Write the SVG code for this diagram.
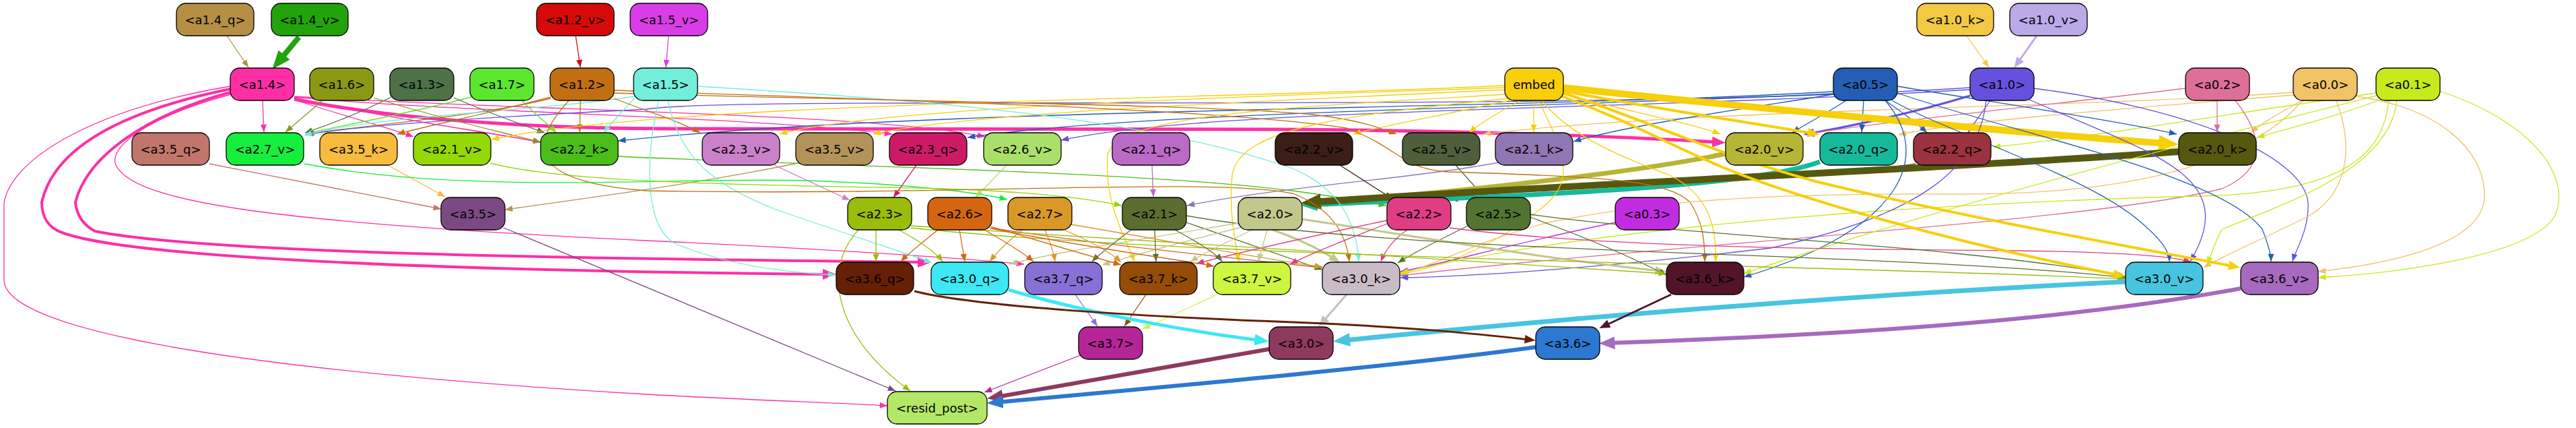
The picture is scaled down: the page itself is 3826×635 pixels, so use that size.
<svg xmlns="http://www.w3.org/2000/svg" width="3826" height="635" viewBox="0 0 3826 635">
<style>
.n rect{stroke:#000;stroke-width:1.3}
.n text{font-family:"DejaVu Sans","Liberation Sans",sans-serif;font-size:18px;text-anchor:middle;fill:#000}
#connectors path{fill:none}
</style>
<defs>
<marker id="t-b58f44" viewBox="0 0 10 8" refX="10" refY="4" markerWidth="12" markerHeight="9" markerUnits="userSpaceOnUse" orient="auto"><path d="M0,0L10,4L0,8z" fill="#b58f44"/></marker>
<marker id="t-d60a0a" viewBox="0 0 10 8" refX="10" refY="4" markerWidth="12" markerHeight="9" markerUnits="userSpaceOnUse" orient="auto"><path d="M0,0L10,4L0,8z" fill="#d60a0a"/></marker>
<marker id="t-d93de8" viewBox="0 0 10 8" refX="10" refY="4" markerWidth="12" markerHeight="9" markerUnits="userSpaceOnUse" orient="auto"><path d="M0,0L10,4L0,8z" fill="#d93de8"/></marker>
<marker id="t-f3c843" viewBox="0 0 10 8" refX="10" refY="4" markerWidth="12" markerHeight="9" markerUnits="userSpaceOnUse" orient="auto"><path d="M0,0L10,4L0,8z" fill="#f3c843"/></marker>
<marker id="t-fe2fa6" viewBox="0 0 10 8" refX="10" refY="4" markerWidth="12" markerHeight="9" markerUnits="userSpaceOnUse" orient="auto"><path d="M0,0L10,4L0,8z" fill="#fe2fa6"/></marker>
<marker id="t-8a9814" viewBox="0 0 10 8" refX="10" refY="4" markerWidth="12" markerHeight="9" markerUnits="userSpaceOnUse" orient="auto"><path d="M0,0L10,4L0,8z" fill="#8a9814"/></marker>
<marker id="t-4e7148" viewBox="0 0 10 8" refX="10" refY="4" markerWidth="12" markerHeight="9" markerUnits="userSpaceOnUse" orient="auto"><path d="M0,0L10,4L0,8z" fill="#4e7148"/></marker>
<marker id="t-5ce630" viewBox="0 0 10 8" refX="10" refY="4" markerWidth="12" markerHeight="9" markerUnits="userSpaceOnUse" orient="auto"><path d="M0,0L10,4L0,8z" fill="#5ce630"/></marker>
<marker id="t-c26f13" viewBox="0 0 10 8" refX="10" refY="4" markerWidth="12" markerHeight="9" markerUnits="userSpaceOnUse" orient="auto"><path d="M0,0L10,4L0,8z" fill="#c26f13"/></marker>
<marker id="t-6651df" viewBox="0 0 10 8" refX="10" refY="4" markerWidth="12" markerHeight="9" markerUnits="userSpaceOnUse" orient="auto"><path d="M0,0L10,4L0,8z" fill="#6651df"/></marker>
<marker id="t-72eedb" viewBox="0 0 10 8" refX="10" refY="4" markerWidth="12" markerHeight="9" markerUnits="userSpaceOnUse" orient="auto"><path d="M0,0L10,4L0,8z" fill="#72eedb"/></marker>
<marker id="t-245eb5" viewBox="0 0 10 8" refX="10" refY="4" markerWidth="12" markerHeight="9" markerUnits="userSpaceOnUse" orient="auto"><path d="M0,0L10,4L0,8z" fill="#245eb5"/></marker>
<marker id="t-f7cf0a" viewBox="0 0 10 8" refX="10" refY="4" markerWidth="12" markerHeight="9" markerUnits="userSpaceOnUse" orient="auto"><path d="M0,0L10,4L0,8z" fill="#f7cf0a"/></marker>
<marker id="t-f2c266" viewBox="0 0 10 8" refX="10" refY="4" markerWidth="12" markerHeight="9" markerUnits="userSpaceOnUse" orient="auto"><path d="M0,0L10,4L0,8z" fill="#f2c266"/></marker>
<marker id="t-dd6f98" viewBox="0 0 10 8" refX="10" refY="4" markerWidth="12" markerHeight="9" markerUnits="userSpaceOnUse" orient="auto"><path d="M0,0L10,4L0,8z" fill="#dd6f98"/></marker>
<marker id="t-c6ea1b" viewBox="0 0 10 8" refX="10" refY="4" markerWidth="12" markerHeight="9" markerUnits="userSpaceOnUse" orient="auto"><path d="M0,0L10,4L0,8z" fill="#c6ea1b"/></marker>
<marker id="t-c0766b" viewBox="0 0 10 8" refX="10" refY="4" markerWidth="12" markerHeight="9" markerUnits="userSpaceOnUse" orient="auto"><path d="M0,0L10,4L0,8z" fill="#c0766b"/></marker>
<marker id="t-f6bb3f" viewBox="0 0 10 8" refX="10" refY="4" markerWidth="12" markerHeight="9" markerUnits="userSpaceOnUse" orient="auto"><path d="M0,0L10,4L0,8z" fill="#f6bb3f"/></marker>
<marker id="t-b3935a" viewBox="0 0 10 8" refX="10" refY="4" markerWidth="12" markerHeight="9" markerUnits="userSpaceOnUse" orient="auto"><path d="M0,0L10,4L0,8z" fill="#b3935a"/></marker>
<marker id="t-16ee3e" viewBox="0 0 10 8" refX="10" refY="4" markerWidth="12" markerHeight="9" markerUnits="userSpaceOnUse" orient="auto"><path d="M0,0L10,4L0,8z" fill="#16ee3e"/></marker>
<marker id="t-94d805" viewBox="0 0 10 8" refX="10" refY="4" markerWidth="12" markerHeight="9" markerUnits="userSpaceOnUse" orient="auto"><path d="M0,0L10,4L0,8z" fill="#94d805"/></marker>
<marker id="t-4cbd1b" viewBox="0 0 10 8" refX="10" refY="4" markerWidth="12" markerHeight="9" markerUnits="userSpaceOnUse" orient="auto"><path d="M0,0L10,4L0,8z" fill="#4cbd1b"/></marker>
<marker id="t-cb81c9" viewBox="0 0 10 8" refX="10" refY="4" markerWidth="12" markerHeight="9" markerUnits="userSpaceOnUse" orient="auto"><path d="M0,0L10,4L0,8z" fill="#cb81c9"/></marker>
<marker id="t-cd1a67" viewBox="0 0 10 8" refX="10" refY="4" markerWidth="12" markerHeight="9" markerUnits="userSpaceOnUse" orient="auto"><path d="M0,0L10,4L0,8z" fill="#cd1a67"/></marker>
<marker id="t-abdf6c" viewBox="0 0 10 8" refX="10" refY="4" markerWidth="12" markerHeight="9" markerUnits="userSpaceOnUse" orient="auto"><path d="M0,0L10,4L0,8z" fill="#abdf6c"/></marker>
<marker id="t-bb6bc6" viewBox="0 0 10 8" refX="10" refY="4" markerWidth="12" markerHeight="9" markerUnits="userSpaceOnUse" orient="auto"><path d="M0,0L10,4L0,8z" fill="#bb6bc6"/></marker>
<marker id="t-8e77b2" viewBox="0 0 10 8" refX="10" refY="4" markerWidth="12" markerHeight="9" markerUnits="userSpaceOnUse" orient="auto"><path d="M0,0L10,4L0,8z" fill="#8e77b2"/></marker>
<marker id="t-3b1e16" viewBox="0 0 10 8" refX="10" refY="4" markerWidth="12" markerHeight="9" markerUnits="userSpaceOnUse" orient="auto"><path d="M0,0L10,4L0,8z" fill="#3b1e16"/></marker>
<marker id="t-4f5f3b" viewBox="0 0 10 8" refX="10" refY="4" markerWidth="12" markerHeight="9" markerUnits="userSpaceOnUse" orient="auto"><path d="M0,0L10,4L0,8z" fill="#4f5f3b"/></marker>
<marker id="t-9a3240" viewBox="0 0 10 8" refX="10" refY="4" markerWidth="12" markerHeight="9" markerUnits="userSpaceOnUse" orient="auto"><path d="M0,0L10,4L0,8z" fill="#9a3240"/></marker>
<marker id="t-c22ce0" viewBox="0 0 10 8" refX="10" refY="4" markerWidth="12" markerHeight="9" markerUnits="userSpaceOnUse" orient="auto"><path d="M0,0L10,4L0,8z" fill="#c22ce0"/></marker>
<marker id="t-df3e83" viewBox="0 0 10 8" refX="10" refY="4" markerWidth="12" markerHeight="9" markerUnits="userSpaceOnUse" orient="auto"><path d="M0,0L10,4L0,8z" fill="#df3e83"/></marker>
<marker id="t-527430" viewBox="0 0 10 8" refX="10" refY="4" markerWidth="12" markerHeight="9" markerUnits="userSpaceOnUse" orient="auto"><path d="M0,0L10,4L0,8z" fill="#527430"/></marker>
<marker id="t-c2c78b" viewBox="0 0 10 8" refX="10" refY="4" markerWidth="12" markerHeight="9" markerUnits="userSpaceOnUse" orient="auto"><path d="M0,0L10,4L0,8z" fill="#c2c78b"/></marker>
<marker id="t-d56611" viewBox="0 0 10 8" refX="10" refY="4" markerWidth="12" markerHeight="9" markerUnits="userSpaceOnUse" orient="auto"><path d="M0,0L10,4L0,8z" fill="#d56611"/></marker>
<marker id="t-5b6e30" viewBox="0 0 10 8" refX="10" refY="4" markerWidth="12" markerHeight="9" markerUnits="userSpaceOnUse" orient="auto"><path d="M0,0L10,4L0,8z" fill="#5b6e30"/></marker>
<marker id="t-9abc0b" viewBox="0 0 10 8" refX="10" refY="4" markerWidth="12" markerHeight="9" markerUnits="userSpaceOnUse" orient="auto"><path d="M0,0L10,4L0,8z" fill="#9abc0b"/></marker>
<marker id="t-d99828" viewBox="0 0 10 8" refX="10" refY="4" markerWidth="12" markerHeight="9" markerUnits="userSpaceOnUse" orient="auto"><path d="M0,0L10,4L0,8z" fill="#d99828"/></marker>
<marker id="t-8970d6" viewBox="0 0 10 8" refX="10" refY="4" markerWidth="12" markerHeight="9" markerUnits="userSpaceOnUse" orient="auto"><path d="M0,0L10,4L0,8z" fill="#8970d6"/></marker>
<marker id="t-944c07" viewBox="0 0 10 8" refX="10" refY="4" markerWidth="12" markerHeight="9" markerUnits="userSpaceOnUse" orient="auto"><path d="M0,0L10,4L0,8z" fill="#944c07"/></marker>
<marker id="t-ccf73e" viewBox="0 0 10 8" refX="10" refY="4" markerWidth="12" markerHeight="9" markerUnits="userSpaceOnUse" orient="auto"><path d="M0,0L10,4L0,8z" fill="#ccf73e"/></marker>
<marker id="t-b42697" viewBox="0 0 10 8" refX="10" refY="4" markerWidth="12" markerHeight="9" markerUnits="userSpaceOnUse" orient="auto"><path d="M0,0L10,4L0,8z" fill="#b42697"/></marker>
<marker id="t-7b4a82" viewBox="0 0 10 8" refX="10" refY="4" markerWidth="12" markerHeight="9" markerUnits="userSpaceOnUse" orient="auto"><path d="M0,0L10,4L0,8z" fill="#7b4a82"/></marker>
<marker id="b-22a20b" viewBox="0 0 10 8" refX="4" refY="4" markerWidth="28" markerHeight="22" markerUnits="userSpaceOnUse" orient="auto"><path d="M0,0L10,4L0,8z" fill="#22a20b"/></marker>
<marker id="b-bba9e8" viewBox="0 0 10 8" refX="4" refY="4" markerWidth="16" markerHeight="13" markerUnits="userSpaceOnUse" orient="auto"><path d="M0,0L10,4L0,8z" fill="#bba9e8"/></marker>
<marker id="b-fe2fa6" viewBox="0 0 10 8" refX="4" refY="4" markerWidth="20" markerHeight="16" markerUnits="userSpaceOnUse" orient="auto"><path d="M0,0L10,4L0,8z" fill="#fe2fa6"/></marker>
<marker id="b-6651df" viewBox="0 0 10 8" refX="4" refY="4" markerWidth="16" markerHeight="13" markerUnits="userSpaceOnUse" orient="auto"><path d="M0,0L10,4L0,8z" fill="#6651df"/></marker>
<marker id="b-f7cf0a" viewBox="0 0 10 8" refX="4" refY="4" markerWidth="30" markerHeight="24" markerUnits="userSpaceOnUse" orient="auto"><path d="M0,0L10,4L0,8z" fill="#f7cf0a"/></marker>
<marker id="m-f7cf0a" viewBox="0 0 10 8" refX="4" refY="4" markerWidth="18" markerHeight="14" markerUnits="userSpaceOnUse" orient="auto"><path d="M0,0L10,4L0,8z" fill="#f7cf0a"/></marker>
<marker id="b-c2c78b" viewBox="0 0 10 8" refX="4" refY="4" markerWidth="16" markerHeight="13" markerUnits="userSpaceOnUse" orient="auto"><path d="M0,0L10,4L0,8z" fill="#c2c78b"/></marker>
<marker id="b-b6b536" viewBox="0 0 10 8" refX="4" refY="4" markerWidth="24" markerHeight="19" markerUnits="userSpaceOnUse" orient="auto"><path d="M0,0L10,4L0,8z" fill="#b6b536"/></marker>
<marker id="b-16b99b" viewBox="0 0 10 8" refX="4" refY="4" markerWidth="24" markerHeight="19" markerUnits="userSpaceOnUse" orient="auto"><path d="M0,0L10,4L0,8z" fill="#16b99b"/></marker>
<marker id="b-56580f" viewBox="0 0 10 8" refX="4" refY="4" markerWidth="30" markerHeight="24" markerUnits="userSpaceOnUse" orient="auto"><path d="M0,0L10,4L0,8z" fill="#56580f"/></marker>
<marker id="b-3de8f5" viewBox="0 0 10 8" refX="4" refY="4" markerWidth="22" markerHeight="17" markerUnits="userSpaceOnUse" orient="auto"><path d="M0,0L10,4L0,8z" fill="#3de8f5"/></marker>
<marker id="b-c9bcc6" viewBox="0 0 10 8" refX="4" refY="4" markerWidth="16" markerHeight="13" markerUnits="userSpaceOnUse" orient="auto"><path d="M0,0L10,4L0,8z" fill="#c9bcc6"/></marker>
<marker id="b-47c4e0" viewBox="0 0 10 8" refX="4" refY="4" markerWidth="26" markerHeight="20" markerUnits="userSpaceOnUse" orient="auto"><path d="M0,0L10,4L0,8z" fill="#47c4e0"/></marker>
<marker id="b-652005" viewBox="0 0 10 8" refX="4" refY="4" markerWidth="16" markerHeight="13" markerUnits="userSpaceOnUse" orient="auto"><path d="M0,0L10,4L0,8z" fill="#652005"/></marker>
<marker id="b-511428" viewBox="0 0 10 8" refX="4" refY="4" markerWidth="16" markerHeight="13" markerUnits="userSpaceOnUse" orient="auto"><path d="M0,0L10,4L0,8z" fill="#511428"/></marker>
<marker id="b-a66abf" viewBox="0 0 10 8" refX="4" refY="4" markerWidth="24" markerHeight="19" markerUnits="userSpaceOnUse" orient="auto"><path d="M0,0L10,4L0,8z" fill="#a66abf"/></marker>
<marker id="b-8e3a5e" viewBox="0 0 10 8" refX="4" refY="4" markerWidth="24" markerHeight="19" markerUnits="userSpaceOnUse" orient="auto"><path d="M0,0L10,4L0,8z" fill="#8e3a5e"/></marker>
<marker id="b-2d78d0" viewBox="0 0 10 8" refX="4" refY="4" markerWidth="24" markerHeight="19" markerUnits="userSpaceOnUse" orient="auto"><path d="M0,0L10,4L0,8z" fill="#2d78d0"/></marker>
</defs>
<rect width="3826" height="635" fill="#fff"/>
<g id="connectors" stroke-width="1.3">
<path d="M337,53 L369,100" stroke="#b58f44" marker-end="url(#t-b58f44)"/>
<path d="M444,55 L415,90" stroke="#22a20b" stroke-width="8" marker-end="url(#b-22a20b)"/>
<path d="M855,53 L862,100" stroke="#d60a0a" marker-end="url(#t-d60a0a)"/>
<path d="M993,53 L989,100" stroke="#d93de8" marker-end="url(#t-d93de8)"/>
<path d="M2921,53 L2954,100" stroke="#f3c843" marker-end="url(#t-f3c843)"/>
<path d="M3025,53 L2997,93" stroke="#bba9e8" stroke-width="3" marker-end="url(#b-bba9e8)"/>
<path d="M390,149 L392,196" stroke="#fe2fa6" marker-end="url(#t-fe2fa6)"/>
<path d="M437,148 C520,175 580,190 614,203" stroke="#fe2fa6" marker-end="url(#t-fe2fa6)"/>
<path d="M437,145 C600,180 720,195 803,211" stroke="#fe2fa6" stroke-width="1.6" marker-end="url(#t-fe2fa6)"/>
<path d="M437,144 C700,168 1100,172 1325,199" stroke="#fe2fa6" marker-end="url(#t-fe2fa6)"/>
<path d="M437,143 C800,165 1300,168 1463,203" stroke="#fe2fa6" marker-end="url(#t-fe2fa6)"/>
<path d="M437,147 C600,180 800,190 1000,191 L1900,192 C2200,193 2450,205 2551,211" stroke="#fe2fa6" stroke-width="5" marker-end="url(#b-fe2fa6)"/>
<path d="M342,132 C180,165 80,220 62,300 C62,322 72,338 92,345 C200,385 700,402 1230,407" stroke="#fe2fa6" stroke-width="4" marker-end="url(#b-fe2fa6)"/>
<path d="M342,137 C220,170 130,230 112,300 C114,320 124,334 141,343 C300,375 800,383 1371,389" stroke="#fe2fa6" stroke-width="4" marker-end="url(#b-fe2fa6)"/>
<path d="M343,140 C230,170 160,215 172,245 C200,300 400,330 960,357 C1200,368 1420,382 1521,392" stroke="#fe2fa6" marker-end="url(#t-fe2fa6)"/>
<path d="M342,128 C150,160 20,230 6,300 L6,417 C10,470 200,540 960,585 C1100,593 1250,598 1318,602" stroke="#fe2fa6" marker-end="url(#t-fe2fa6)"/>
<path d="M478,150 L424,196" stroke="#8a9814" marker-end="url(#t-8a9814)"/>
<path d="M581,144 C530,170 480,188 453,197" stroke="#4e7148" marker-end="url(#t-4e7148)"/>
<path d="M700,144 C600,170 500,188 455,198" stroke="#5ce630" marker-end="url(#t-5ce630)"/>
<path d="M818,146 C700,175 520,188 455,199" stroke="#c26f13" marker-end="url(#t-c26f13)"/>
<path d="M2926,130 C2300,170 1100,140 960,162 C700,175 520,188 453,200" stroke="#6651df" marker-end="url(#t-6651df)"/>
<path d="M942,143 C800,165 550,172 452,201" stroke="#72eedb" marker-end="url(#t-72eedb)"/>
<path d="M555,145 C650,175 750,197 803,211" stroke="#8a9814" marker-end="url(#t-8a9814)"/>
<path d="M674,145 C720,165 770,183 809,197" stroke="#4e7148" marker-end="url(#t-4e7148)"/>
<path d="M775,149 C795,170 815,185 826,197" stroke="#5ce630" marker-end="url(#t-5ce630)"/>
<path d="M862,149 L861,196" stroke="#c26f13" marker-end="url(#t-c26f13)"/>
<path d="M942,146 C925,165 905,185 897,197" stroke="#72eedb" marker-end="url(#t-72eedb)"/>
<path d="M2723,136 C2200,165 1400,158 918,209" stroke="#245eb5" marker-end="url(#t-245eb5)"/>
<path d="M818,144 C720,170 640,185 590,199" stroke="#c26f13" marker-end="url(#t-c26f13)"/>
<path d="M2235,127 C1800,148 1000,150 730,207" stroke="#f7cf0a" marker-end="url(#t-f7cf0a)"/>
<path d="M912,146 C960,165 1010,180 1040,197" stroke="#c26f13" marker-end="url(#t-c26f13)"/>
<path d="M2235,130 C1800,145 1300,160 1158,199" stroke="#f7cf0a" marker-end="url(#t-f7cf0a)"/>
<path d="M2235,133 C1900,150 1450,165 1297,199" stroke="#f7cf0a" marker-end="url(#t-f7cf0a)"/>
<path d="M2723,139 C2300,160 1700,165 1437,204" stroke="#245eb5" marker-end="url(#t-245eb5)"/>
<path d="M2926,133 C2400,165 1800,160 1576,208" stroke="#6651df" marker-end="url(#t-6651df)"/>
<path d="M2250,147 C2150,170 2060,185 2010,199" stroke="#f7cf0a" marker-end="url(#t-f7cf0a)"/>
<path d="M912,138 C1300,150 1800,155 1950,170 C2020,178 2050,190 2074,199" stroke="#c26f13" marker-end="url(#t-c26f13)"/>
<path d="M2258,149 C2220,170 2195,185 2182,197" stroke="#f7cf0a" marker-end="url(#t-f7cf0a)"/>
<path d="M3406,137 C3100,160 2500,162 2203,199" stroke="#f2c266" marker-end="url(#t-f2c266)"/>
<path d="M2278,149 L2278,196" stroke="#f7cf0a" marker-end="url(#t-f7cf0a)"/>
<path d="M2723,140 C2600,160 2420,185 2337,210" stroke="#245eb5" marker-end="url(#t-245eb5)"/>
<path d="M2322,140 C2420,165 2520,185 2555,199" stroke="#f7cf0a" marker-end="url(#t-f7cf0a)"/>
<path d="M2742,149 C2710,170 2680,185 2662,197" stroke="#245eb5" marker-end="url(#t-245eb5)"/>
<path d="M2926,142 C2850,165 2760,185 2688,198" stroke="#6651df" stroke-width="3" marker-end="url(#b-6651df)"/>
<path d="M3246,131 C3050,155 2800,180 2683,199" stroke="#dd6f98" marker-end="url(#t-dd6f98)"/>
<path d="M2322,135 C2450,160 2620,185 2692,198" stroke="#f7cf0a" stroke-width="4" marker-end="url(#m-f7cf0a)"/>
<path d="M2768,149 L2765,196" stroke="#245eb5" marker-end="url(#t-245eb5)"/>
<path d="M3406,141 C3100,165 2900,182 2820,200" stroke="#f2c266" marker-end="url(#t-f2c266)"/>
<path d="M2800,149 C2830,170 2850,185 2862,197" stroke="#245eb5" marker-end="url(#t-245eb5)"/>
<path d="M2956,149 C2942,170 2930,185 2923,197" stroke="#6651df" marker-end="url(#t-6651df)"/>
<path d="M3529,138 C3300,170 3100,205 2960,218" stroke="#c6ea1b" marker-end="url(#t-c6ea1b)"/>
<path d="M2818,128 C2950,150 3150,180 3233,199" stroke="#245eb5" marker-end="url(#t-245eb5)"/>
<path d="M2322,130 C2600,160 3000,197 3218,213" stroke="#f7cf0a" stroke-width="10" marker-end="url(#b-f7cf0a)"/>
<path d="M3293,149 L3293,196" stroke="#dd6f98" marker-end="url(#t-dd6f98)"/>
<path d="M3422,147 C3392,165 3362,180 3343,197" stroke="#f2c266" marker-end="url(#t-f2c266)"/>
<path d="M3540,146 C3480,170 3400,190 3352,204" stroke="#c6ea1b" marker-end="url(#t-c6ea1b)"/>
<path d="M311,243 L655,310" stroke="#c0766b" marker-end="url(#t-c0766b)"/>
<path d="M576,245 L661,292" stroke="#f6bb3f" marker-end="url(#t-f6bb3f)"/>
<path d="M1185,242 C1050,270 900,290 750,311" stroke="#b3935a" marker-end="url(#t-b3935a)"/>
<path d="M452,243 C700,290 1000,262 1200,268 C1350,273 1450,285 1496,296" stroke="#16ee3e" marker-end="url(#t-16ee3e)"/>
<path d="M729,242 C850,275 1200,275 1400,280 C1550,285 1620,295 1666,305" stroke="#94d805" marker-end="url(#t-94d805)"/>
<path d="M918,232 C1200,245 1700,255 1920,283 C1980,291 2030,300 2059,305" stroke="#4cbd1b" marker-end="url(#t-4cbd1b)"/>
<path d="M1150,245 L1262,297" stroke="#cb81c9" marker-end="url(#t-cb81c9)"/>
<path d="M1361,245 L1327,293" stroke="#cd1a67" marker-end="url(#t-cd1a67)"/>
<path d="M1495,245 L1449,293" stroke="#abdf6c" marker-end="url(#t-abdf6c)"/>
<path d="M1711,245 L1713,292" stroke="#bb6bc6" marker-end="url(#t-bb6bc6)"/>
<path d="M2226,241 C2100,265 1900,277 1763,305" stroke="#8e77b2" marker-end="url(#t-8e77b2)"/>
<path d="M1990,245 L2068,295" stroke="#3b1e16" marker-end="url(#t-3b1e16)"/>
<path d="M2162,245 L2205,293" stroke="#4f5f3b" marker-end="url(#t-4f5f3b)"/>
<path d="M2845,243 C2700,265 2400,277 2154,296" stroke="#9a3240" marker-end="url(#t-9a3240)"/>
<path d="M2563,228 C2400,262 2100,290 1947,302" stroke="#b6b536" stroke-width="7" marker-end="url(#b-b6b536)"/>
<path d="M2703,240 C2600,278 2300,288 1947,304" stroke="#16b99b" stroke-width="7" marker-end="url(#b-16b99b)"/>
<path d="M3236,225 C2900,250 2300,275 1950,300" stroke="#56580f" stroke-width="10" marker-end="url(#b-56580f)"/>
<path d="M978,149 C960,230 955,330 1000,360 C1080,395 1180,405 1241,408" stroke="#72eedb" marker-end="url(#t-72eedb)"/>
<path d="M992,149 C1010,230 1050,270 1150,310 C1250,345 1330,370 1384,390" stroke="#72eedb" marker-end="url(#t-72eedb)"/>
<path d="M1035,128 C1400,150 1700,175 1920,250 C1990,280 2015,330 2018,388" stroke="#72eedb" marker-end="url(#t-72eedb)"/>
<path d="M845,149 C780,220 790,270 960,283 C1400,292 1800,262 1920,287 C1980,310 2000,350 2004,388" stroke="#c26f13" marker-end="url(#t-c26f13)"/>
<path d="M912,134 C1300,148 1800,160 2000,190 C2080,220 2080,250 2150,255 C2400,262 2480,270 2510,300 C2530,330 2532,360 2532,388" stroke="#c26f13" marker-end="url(#t-c26f13)"/>
<path d="M2290,149 C2330,200 2400,230 2480,260 C2540,290 2550,340 2548,388" stroke="#f7cf0a" marker-end="url(#t-f7cf0a)"/>
<path d="M2285,149 C2320,220 2340,260 2300,300 C2230,360 2150,395 2079,407" stroke="#f7cf0a" marker-end="url(#t-f7cf0a)"/>
<path d="M2235,140 C1900,160 1660,170 1645,230 C1640,300 1670,350 1685,388" stroke="#f7cf0a" marker-end="url(#t-f7cf0a)"/>
<path d="M2240,146 C2000,170 1840,190 1830,260 C1825,320 1835,360 1840,388" stroke="#f7cf0a" marker-end="url(#t-f7cf0a)"/>
<path d="M2400,330 C2250,360 2150,390 2080,403" stroke="#c22ce0" marker-end="url(#t-c22ce0)"/>
<path d="M3320,149 C3360,200 3370,250 3300,280 C3100,330 2500,360 2080,409" stroke="#dd6f98" marker-end="url(#t-dd6f98)"/>
<path d="M3420,149 C3350,230 3200,290 2900,288 C2600,286 2450,300 2300,330 C2200,355 2130,395 2080,406" stroke="#f2c266" marker-end="url(#t-f2c266)"/>
<path d="M3548,149 C3540,230 3480,280 3300,290 C2900,300 2400,330 2080,405" stroke="#c6ea1b" marker-end="url(#t-c6ea1b)"/>
<path d="M2950,149 C2940,250 2850,320 2630,368 C2400,395 2200,410 2080,412" stroke="#6651df" marker-end="url(#t-6651df)"/>
<path d="M2090,341 C2070,355 2058,370 2051,388" stroke="#df3e83" marker-end="url(#t-df3e83)"/>
<path d="M2180,335 C2130,360 2100,375 2076,390" stroke="#527430" marker-end="url(#t-527430)"/>
<path d="M1890,341 C1930,355 1960,370 1982,384" stroke="#c2c78b" stroke-width="3" marker-end="url(#b-c2c78b)"/>
<path d="M1933,325 C2100,350 2300,385 2465,402" stroke="#c2c78b" stroke-width="3" marker-end="url(#b-c2c78b)"/>
<path d="M2272,322 C2350,350 2420,380 2475,408" stroke="#527430" marker-end="url(#t-527430)"/>
<path d="M1470,338 C1650,365 1850,385 1964,397" stroke="#d56611" marker-end="url(#t-d56611)"/>
<path d="M1762,330 C1850,360 1920,385 1964,400" stroke="#5b6e30" marker-end="url(#t-5b6e30)"/>
<path d="M2800,149 C2870,230 2830,340 2590,411" stroke="#245eb5" marker-end="url(#t-245eb5)"/>
<path d="M3529,142 C3300,200 2900,300 2590,406" stroke="#c6ea1b" marker-end="url(#t-c6ea1b)"/>
<path d="M2153,338 C2400,370 2800,370 3000,372 C3150,374 3230,380 3254,389" stroke="#df3e83" marker-end="url(#t-df3e83)"/>
<path d="M2272,318 C2500,350 2900,362 3157,410" stroke="#527430" marker-end="url(#t-527430)"/>
<path d="M1762,320 C2100,380 2800,372 3157,412" stroke="#5b6e30" marker-end="url(#t-5b6e30)"/>
<path d="M1353,338 C1800,385 2800,395 3157,414" stroke="#9abc0b" marker-end="url(#t-9abc0b)"/>
<path d="M1353,335 C1800,365 2200,388 2475,406" stroke="#9abc0b" marker-end="url(#t-9abc0b)"/>
<path d="M2810,149 C2900,200 3100,260 3180,330 C3215,360 3222,375 3222,388" stroke="#245eb5" marker-end="url(#t-245eb5)"/>
<path d="M2818,138 C3000,200 3300,260 3360,340 C3370,365 3373,378 3373,388" stroke="#245eb5" marker-end="url(#t-245eb5)"/>
<path d="M3012,147 C3200,230 3330,260 3253,388" stroke="#6651df" marker-end="url(#t-6651df)"/>
<path d="M3020,131 C3250,160 3420,230 3428,300 C3430,340 3410,370 3405,388" stroke="#6651df" marker-end="url(#t-6651df)"/>
<path d="M3470,149 C3500,230 3480,290 3430,320 C3350,360 3300,380 3273,397" stroke="#f2c266" marker-end="url(#t-f2c266)"/>
<path d="M3500,143 C3620,160 3690,220 3690,290 C3690,360 3560,390 3443,403" stroke="#f2c266" marker-end="url(#t-f2c266)"/>
<path d="M3560,149 C3550,250 3400,300 3300,340 C3290,360 3285,375 3278,392" stroke="#c6ea1b" marker-end="url(#t-c6ea1b)"/>
<path d="M3623,135 C3760,180 3820,260 3795,320 C3760,380 3560,405 3443,412" stroke="#c6ea1b" marker-end="url(#t-c6ea1b)"/>
<path d="M2318,142 C2420,180 2470,210 2540,240 C2650,290 2900,360 3146,408" stroke="#f7cf0a" stroke-width="4" marker-end="url(#m-f7cf0a)"/>
<path d="M2322,138 C2450,180 2550,230 2700,270 C2950,330 3200,372 3317,395" stroke="#f7cf0a" stroke-width="4" marker-end="url(#m-f7cf0a)"/>
<path d="M1301,341 L1301,388" stroke="#9abc0b" marker-end="url(#t-9abc0b)"/>
<path d="M1393,341 C1370,360 1350,375 1338,388" stroke="#d56611" marker-end="url(#t-d56611)"/>
<path d="M1335,341 C1370,360 1390,375 1400,388" stroke="#9abc0b" marker-end="url(#t-9abc0b)"/>
<path d="M1425,341 L1433,388" stroke="#d56611" marker-end="url(#t-d56611)"/>
<path d="M1518,341 C1495,360 1480,375 1470,388" stroke="#d99828" marker-end="url(#t-d99828)"/>
<path d="M1845,330 C1700,355 1560,375 1500,392" stroke="#c2c78b" marker-end="url(#t-c2c78b)"/>
<path d="M1462,341 C1495,360 1520,375 1535,388" stroke="#d56611" marker-end="url(#t-d56611)"/>
<path d="M1552,341 C1560,360 1565,375 1567,388" stroke="#d99828" marker-end="url(#t-d99828)"/>
<path d="M1680,341 C1655,360 1635,375 1622,388" stroke="#5b6e30" marker-end="url(#t-5b6e30)"/>
<path d="M1845,337 C1750,360 1680,380 1637,393" stroke="#c2c78b" marker-end="url(#t-c2c78b)"/>
<path d="M1472,336 C1550,360 1620,380 1665,393" stroke="#d56611" marker-end="url(#t-d56611)"/>
<path d="M1580,341 C1625,360 1650,375 1665,389" stroke="#d99828" marker-end="url(#t-d99828)"/>
<path d="M1715,341 L1717,388" stroke="#5b6e30" marker-end="url(#t-5b6e30)"/>
<path d="M1860,341 C1820,360 1790,375 1768,388" stroke="#c2c78b" marker-end="url(#t-c2c78b)"/>
<path d="M2060,327 C1950,350 1840,375 1777,391" stroke="#df3e83" marker-end="url(#t-df3e83)"/>
<path d="M1472,339 C1600,365 1750,385 1803,395" stroke="#d56611" marker-end="url(#t-d56611)"/>
<path d="M1591,333 C1750,360 1880,385 1964,396" stroke="#d99828" marker-end="url(#t-d99828)"/>
<path d="M1745,341 C1780,360 1805,375 1815,388" stroke="#5b6e30" marker-end="url(#t-5b6e30)"/>
<path d="M1882,341 L1869,388" stroke="#c2c78b" marker-end="url(#t-c2c78b)"/>
<path d="M2060,332 C2000,355 1950,375 1916,392" stroke="#df3e83" marker-end="url(#t-df3e83)"/>
<path d="M1597,437 L1630,484" stroke="#8970d6" marker-end="url(#t-8970d6)"/>
<path d="M1702,437 L1670,484" stroke="#944c07" marker-end="url(#t-944c07)"/>
<path d="M1808,437 L1697,488" stroke="#ccf73e" marker-end="url(#t-ccf73e)"/>
<path d="M1498,430 C1600,460 1750,490 1872,505" stroke="#3de8f5" stroke-width="5" marker-end="url(#b-3de8f5)"/>
<path d="M2000,437 L1965,477" stroke="#c9bcc6" stroke-width="3" marker-end="url(#b-c9bcc6)"/>
<path d="M3157,418 C2700,440 2300,475 1995,505" stroke="#47c4e0" stroke-width="7" marker-end="url(#b-47c4e0)"/>
<path d="M1358,432 C1450,455 1700,470 1920,478 C2100,485 2200,496 2271,504" stroke="#652005" stroke-width="3" marker-end="url(#b-652005)"/>
<path d="M2482,437 L2384,483" stroke="#511428" stroke-width="3" marker-end="url(#b-511428)"/>
<path d="M3328,428 C3100,470 2800,495 2389,509" stroke="#a66abf" stroke-width="6" marker-end="url(#b-a66abf)"/>
<path d="M1605,527 L1462,582" stroke="#b42697" marker-end="url(#t-b42697)"/>
<path d="M1885,518 C1700,550 1560,576 1480,589" stroke="#8e3a5e" stroke-width="6" marker-end="url(#b-8e3a5e)"/>
<path d="M2281,515 C2100,540 1800,568 1480,597" stroke="#2d78d0" stroke-width="6" marker-end="url(#b-2d78d0)"/>
<path d="M748,338 L1330,580" stroke="#7b4a82" marker-end="url(#t-7b4a82)"/>
<path d="M1275,341 C1220,400 1240,500 1352,580" stroke="#9abc0b" marker-end="url(#t-9abc0b)"/>
</g>
<g id="a1_4_q" class="n"><rect x="262" y="5" width="115" height="48" rx="14" fill="#b58f44"/><text x="319.5" y="36">&lt;a1.4_q&gt;</text></g>
<g id="a1_4_v" class="n"><rect x="403" y="5" width="114" height="48" rx="14" fill="#22a20b"/><text x="460" y="36">&lt;a1.4_v&gt;</text></g>
<g id="a1_2_v" class="n"><rect x="797" y="5" width="115" height="48" rx="14" fill="#d60a0a"/><text x="854.5" y="36">&lt;a1.2_v&gt;</text></g>
<g id="a1_5_v" class="n"><rect x="936" y="5" width="115" height="48" rx="14" fill="#d93de8"/><text x="993.5" y="36">&lt;a1.5_v&gt;</text></g>
<g id="a1_0_k" class="n"><rect x="2847" y="5" width="114" height="48" rx="14" fill="#f3c843"/><text x="2904" y="36">&lt;a1.0_k&gt;</text></g>
<g id="a1_0_v" class="n"><rect x="2985" y="5" width="115" height="48" rx="14" fill="#bba9e8"/><text x="3042.5" y="36">&lt;a1.0_v&gt;</text></g>
<g id="a1_4" class="n"><rect x="342" y="101" width="95" height="48" rx="14" fill="#fe2fa6"/><text x="389.5" y="132">&lt;a1.4&gt;</text></g>
<g id="a1_6" class="n"><rect x="460" y="101" width="95" height="48" rx="14" fill="#8a9814"/><text x="507.5" y="132">&lt;a1.6&gt;</text></g>
<g id="a1_3" class="n"><rect x="579" y="101" width="95" height="48" rx="14" fill="#4e7148"/><text x="626.5" y="132">&lt;a1.3&gt;</text></g>
<g id="a1_7" class="n"><rect x="698" y="101" width="95" height="48" rx="14" fill="#5ce630"/><text x="745.5" y="132">&lt;a1.7&gt;</text></g>
<g id="a1_2" class="n"><rect x="817" y="101" width="95" height="48" rx="14" fill="#c26f13"/><text x="864.5" y="132">&lt;a1.2&gt;</text></g>
<g id="a1_5" class="n"><rect x="941" y="101" width="95" height="48" rx="14" fill="#72eedb"/><text x="988.5" y="132">&lt;a1.5&gt;</text></g>
<g id="embed" class="n"><rect x="2235" y="101" width="87" height="48" rx="14" fill="#f7cf0a"/><text x="2278.5" y="132">embed</text></g>
<g id="a0_5" class="n"><rect x="2723" y="101" width="95" height="48" rx="14" fill="#245eb5"/><text x="2770.5" y="132">&lt;a0.5&gt;</text></g>
<g id="a1_0" class="n"><rect x="2926" y="101" width="95" height="48" rx="14" fill="#6651df"/><text x="2973.5" y="132">&lt;a1.0&gt;</text></g>
<g id="a0_2" class="n"><rect x="3246" y="101" width="95" height="48" rx="14" fill="#dd6f98"/><text x="3293.5" y="132">&lt;a0.2&gt;</text></g>
<g id="a0_0" class="n"><rect x="3406" y="101" width="95" height="48" rx="14" fill="#f2c266"/><text x="3453.5" y="132">&lt;a0.0&gt;</text></g>
<g id="a0_1" class="n"><rect x="3529" y="101" width="95" height="48" rx="14" fill="#c6ea1b"/><text x="3576.5" y="132">&lt;a0.1&gt;</text></g>
<g id="a3_5_q" class="n"><rect x="196" y="197" width="115" height="48" rx="14" fill="#c0766b"/><text x="253.5" y="228">&lt;a3.5_q&gt;</text></g>
<g id="a2_7_v" class="n"><rect x="336" y="197" width="115" height="48" rx="14" fill="#16ee3e"/><text x="393.5" y="228">&lt;a2.7_v&gt;</text></g>
<g id="a3_5_k" class="n"><rect x="475" y="197" width="115" height="48" rx="14" fill="#f6bb3f"/><text x="532.5" y="228">&lt;a3.5_k&gt;</text></g>
<g id="a2_1_v" class="n"><rect x="614" y="197" width="115" height="48" rx="14" fill="#94d805"/><text x="671.5" y="228">&lt;a2.1_v&gt;</text></g>
<g id="a2_2_k" class="n"><rect x="803" y="197" width="115" height="48" rx="14" fill="#4cbd1b"/><text x="860.5" y="228">&lt;a2.2_k&gt;</text></g>
<g id="a2_3_v" class="n"><rect x="1043" y="197" width="115" height="48" rx="14" fill="#cb81c9"/><text x="1100.5" y="228">&lt;a2.3_v&gt;</text></g>
<g id="a3_5_v" class="n"><rect x="1182" y="197" width="115" height="48" rx="14" fill="#b3935a"/><text x="1239.5" y="228">&lt;a3.5_v&gt;</text></g>
<g id="a2_3_q" class="n"><rect x="1321" y="197" width="115" height="48" rx="14" fill="#cd1a67"/><text x="1378.5" y="228">&lt;a2.3_q&gt;</text></g>
<g id="a2_6_v" class="n"><rect x="1461" y="197" width="115" height="48" rx="14" fill="#abdf6c"/><text x="1518.5" y="228">&lt;a2.6_v&gt;</text></g>
<g id="a2_1_q" class="n"><rect x="1652" y="197" width="115" height="48" rx="14" fill="#bb6bc6"/><text x="1709.5" y="228">&lt;a2.1_q&gt;</text></g>
<g id="a2_2_v" class="n"><rect x="1894" y="197" width="115" height="48" rx="14" fill="#3b1e16"/><text x="1951.5" y="228">&lt;a2.2_v&gt;</text></g>
<g id="a2_5_v" class="n"><rect x="2083" y="197" width="115" height="48" rx="14" fill="#4f5f3b"/><text x="2140.5" y="228">&lt;a2.5_v&gt;</text></g>
<g id="a2_1_k" class="n"><rect x="2221" y="197" width="115" height="48" rx="14" fill="#8e77b2"/><text x="2278.5" y="228">&lt;a2.1_k&gt;</text></g>
<g id="a2_0_v" class="n"><rect x="2563" y="197" width="115" height="48" rx="14" fill="#b6b536"/><text x="2620.5" y="228">&lt;a2.0_v&gt;</text></g>
<g id="a2_0_q" class="n"><rect x="2703" y="197" width="115" height="48" rx="14" fill="#16b99b"/><text x="2760.5" y="228">&lt;a2.0_q&gt;</text></g>
<g id="a2_2_q" class="n"><rect x="2842" y="197" width="115" height="48" rx="14" fill="#9a3240"/><text x="2899.5" y="228">&lt;a2.2_q&gt;</text></g>
<g id="a2_0_k" class="n"><rect x="3236" y="197" width="115" height="48" rx="14" fill="#56580f"/><text x="3293.5" y="228">&lt;a2.0_k&gt;</text></g>
<g id="a3_5" class="n"><rect x="655" y="293" width="95" height="48" rx="14" fill="#7b4a82"/><text x="702.5" y="324">&lt;a3.5&gt;</text></g>
<g id="a2_3" class="n"><rect x="1259" y="293" width="95" height="48" rx="14" fill="#9abc0b"/><text x="1306.5" y="324">&lt;a2.3&gt;</text></g>
<g id="a2_6" class="n"><rect x="1378" y="293" width="95" height="48" rx="14" fill="#d56611"/><text x="1425.5" y="324">&lt;a2.6&gt;</text></g>
<g id="a2_7" class="n"><rect x="1497" y="293" width="95" height="48" rx="14" fill="#d99828"/><text x="1544.5" y="324">&lt;a2.7&gt;</text></g>
<g id="a2_1" class="n"><rect x="1667" y="293" width="95" height="48" rx="14" fill="#5b6e30"/><text x="1714.5" y="324">&lt;a2.1&gt;</text></g>
<g id="a2_0" class="n"><rect x="1839" y="293" width="95" height="48" rx="14" fill="#c2c78b"/><text x="1886.5" y="324">&lt;a2.0&gt;</text></g>
<g id="a2_2" class="n"><rect x="2060" y="293" width="95" height="48" rx="14" fill="#df3e83"/><text x="2107.5" y="324">&lt;a2.2&gt;</text></g>
<g id="a2_5" class="n"><rect x="2178" y="293" width="95" height="48" rx="14" fill="#527430"/><text x="2225.5" y="324">&lt;a2.5&gt;</text></g>
<g id="a0_3" class="n"><rect x="2399" y="293" width="95" height="48" rx="14" fill="#c22ce0"/><text x="2446.5" y="324">&lt;a0.3&gt;</text></g>
<g id="a3_6_q" class="n"><rect x="1242" y="389" width="115" height="48" rx="14" fill="#652005"/><text x="1299.5" y="420">&lt;a3.6_q&gt;</text></g>
<g id="a3_0_q" class="n"><rect x="1383" y="389" width="115" height="48" rx="14" fill="#3de8f5"/><text x="1440.5" y="420">&lt;a3.0_q&gt;</text></g>
<g id="a3_7_q" class="n"><rect x="1522" y="389" width="115" height="48" rx="14" fill="#8970d6"/><text x="1579.5" y="420">&lt;a3.7_q&gt;</text></g>
<g id="a3_7_k" class="n"><rect x="1663" y="389" width="115" height="48" rx="14" fill="#944c07"/><text x="1720.5" y="420">&lt;a3.7_k&gt;</text></g>
<g id="a3_7_v" class="n"><rect x="1802" y="389" width="115" height="48" rx="14" fill="#ccf73e"/><text x="1859.5" y="420">&lt;a3.7_v&gt;</text></g>
<g id="a3_0_k" class="n"><rect x="1964" y="389" width="115" height="48" rx="14" fill="#c9bcc6"/><text x="2021.5" y="420">&lt;a3.0_k&gt;</text></g>
<g id="a3_6_k" class="n"><rect x="2475" y="389" width="115" height="48" rx="14" fill="#511428"/><text x="2532.5" y="420">&lt;a3.6_k&gt;</text></g>
<g id="a3_0_v" class="n"><rect x="3157" y="389" width="115" height="48" rx="14" fill="#47c4e0"/><text x="3214.5" y="420">&lt;a3.0_v&gt;</text></g>
<g id="a3_6_v" class="n"><rect x="3328" y="389" width="115" height="48" rx="14" fill="#a66abf"/><text x="3385.5" y="420">&lt;a3.6_v&gt;</text></g>
<g id="a3_7" class="n"><rect x="1602" y="485" width="95" height="48" rx="14" fill="#b42697"/><text x="1649.5" y="516">&lt;a3.7&gt;</text></g>
<g id="a3_0" class="n"><rect x="1885" y="485" width="95" height="48" rx="14" fill="#8e3a5e"/><text x="1932.5" y="516">&lt;a3.0&gt;</text></g>
<g id="a3_6" class="n"><rect x="2281" y="485" width="95" height="48" rx="14" fill="#2d78d0"/><text x="2328.5" y="516">&lt;a3.6&gt;</text></g>
<g id="resid_post" class="n"><rect x="1318" y="581" width="148" height="48" rx="14" fill="#b3e766"/><text x="1392" y="612">&lt;resid_post&gt;</text></g>
</svg>
